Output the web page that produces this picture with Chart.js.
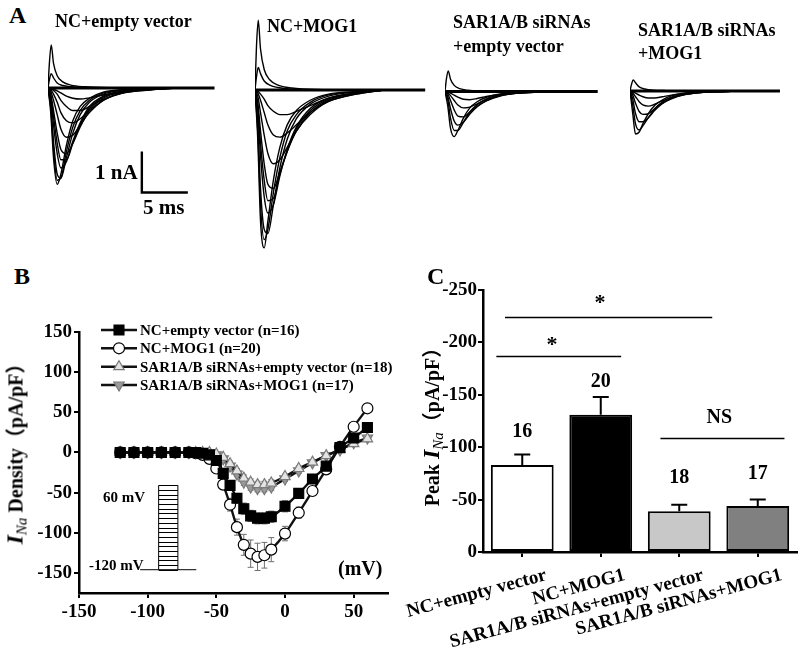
<!DOCTYPE html>
<html lang="en">
<head>
<meta charset="utf-8">
<title>INa density</title>
<script src="https://cdn.jsdelivr.net/npm/chart.js@4.4.1/dist/chart.umd.min.js"></script>
<style>
  html, body { margin: 0; padding: 0; background: #fff; }
  #fig { position: relative; width: 800px; height: 647px; overflow: hidden;
         font-family: "Liberation Serif", "Times New Roman", serif; font-weight: bold; color: #000; }
  #fig canvas { position: absolute; }
  .txt { position: absolute; white-space: nowrap; line-height: 1; }
  .vt { transform: translate(-50%, -50%) rotate(-90deg); font-size: 20px; }
  .vt i.big { font-size: 24px; }
  .vt sub { font-size: 15px; font-style: italic; font-weight: normal; vertical-align: -4px; }
  .cjk { font-family: "Noto Sans CJK SC", serif; }
</style>
</head>
<body>
<div id="fig">
  <!-- panel A -->
  <canvas id="traceNcEmpty" width="180" height="270" style="left:48px;top:0"></canvas>
  <canvas id="traceNcMog1" width="180" height="270" style="left:255px;top:0"></canvas>
  <canvas id="traceSarEmpty" width="180" height="270" style="left:445px;top:0"></canvas>
  <canvas id="traceSarMog1" width="170" height="270" style="left:630px;top:0"></canvas>
  <div class="txt" style="left:9px;top:3px;font-size:24px">A</div>
  <div class="txt" style="left:55px;top:12px;font-size:18px">NC+empty vector</div>
  <div class="txt" style="left:267px;top:17px;font-size:18px">NC+MOG1</div>
  <div class="txt" style="left:453px;top:13px;font-size:18px">SAR1A/B siRNAs</div>
  <div class="txt" style="left:453px;top:37px;font-size:18px">+empty vector</div>
  <div class="txt" style="left:638px;top:21px;font-size:18px">SAR1A/B siRNAs</div>
  <div class="txt" style="left:638px;top:44px;font-size:18px">+MOG1</div>
  <div class="txt" style="left:95px;top:162px;font-size:21px">1 nA</div>
  <div class="txt" style="left:143px;top:197px;font-size:21px">5 ms</div>

  <!-- panel B -->
  <canvas id="ivChart" width="400" height="350" style="left:0;top:290px"></canvas>
  <div class="txt" style="left:14px;top:264px;font-size:24px">B</div>
  <div class="txt vt" style="left:16px;top:449px"><i class="big">I</i><sub>Na</sub> Density<span class="cjk">（</span>pA/pF<span class="cjk">）</span></div>
  <div class="txt" style="left:338px;top:558px;font-size:20px">(mV)</div>
  <div class="txt" style="left:103px;top:490px;font-size:15px">60 mV</div>
  <div class="txt" style="left:89px;top:558px;font-size:15px">-120 mV</div>

  <!-- panel C -->
  <canvas id="peakChart" width="400" height="387" style="left:400px;top:260px"></canvas>
  <div class="txt" style="left:427px;top:264px;font-size:24px">C</div>
  <div class="txt vt" style="left:432px;top:422px">Peak <i class="big">I</i><sub>Na</sub><span class="cjk">（</span>pA/pF<span class="cjk">）</span></div>
</div>

<script>
// ---- panel A: whole-cell current traces (ms, nA) ----
const traceTimes = [0, 0.3, 0.6, 1.0, 1.4, 2.0, 2.7, 3.5, 4.5, 6, 8, 11, 14];
const spikeTimes = [0, 0.15, 0.35, 0.6, 1.0, 1.6, 2.5, 4, 8];
const recordEnd = [18.1, 18.5, 16.6, 16.3];

const ncEmptyTraces = [
    [0, -0.6, -1.7, -2.35, -2.1, -1.4, -0.8, -0.45, -0.25, -0.1, -0.04, -0.02, 0],
    [0, -0.5, -1.5, -2.25, -2.2, -1.55, -0.95, -0.55, -0.3, -0.12, -0.05, -0.02, 0],
    [0, -0.4, -1.3, -2.1, -2.2, -1.7, -1.1, -0.65, -0.35, -0.15, -0.06, -0.02, 0],
    [0, -0.25, -0.9, -1.6, -1.95, -1.8, -1.3, -0.85, -0.45, -0.2, -0.08, -0.03, 0],
    [0, -0.2, -0.7, -1.35, -1.75, -1.75, -1.35, -0.9, -0.5, -0.22, -0.09, -0.03, 0],
    [0, -0.15, -0.55, -1.1, -1.5, -1.6, -1.35, -0.95, -0.55, -0.25, -0.1, -0.03, 0],
    [0, -0.08, -0.3, -0.65, -1.0, -1.2, -1.15, -0.9, -0.6, -0.3, -0.12, -0.04, 0],
    [0, -0.04, -0.15, -0.35, -0.6, -0.8, -0.85, -0.75, -0.55, -0.3, -0.13, -0.05, 0],
    [0, -0.02, -0.06, -0.15, -0.3, -0.45, -0.55, -0.55, -0.45, -0.28, -0.13, -0.05, 0],
    [0, -0.01, -0.03, -0.07, -0.12, -0.2, -0.25, -0.27, -0.24, -0.17, -0.09, -0.04, 0]
];
const ncMog1Traces = [
    [0, -1.2, -3.2, -3.85, -3.2, -2.2, -1.4, -0.85, -0.5, -0.25, -0.1, -0.04, 0],
    [0, -1.0, -2.8, -3.65, -3.4, -2.5, -1.65, -1.0, -0.6, -0.3, -0.12, -0.04, 0],
    [0, -0.8, -2.4, -3.4, -3.5, -2.8, -1.9, -1.2, -0.7, -0.35, -0.15, -0.05, 0],
    [0, -0.5, -1.6, -2.6, -3.0, -2.8, -2.1, -1.45, -0.9, -0.45, -0.2, -0.07, 0],
    [0, -0.4, -1.3, -2.2, -2.7, -2.65, -2.05, -1.5, -0.95, -0.5, -0.22, -0.07, 0],
    [0, -0.3, -1.0, -1.8, -2.3, -2.4, -2.0, -1.5, -1.0, -0.55, -0.25, -0.08, 0],
    [0, -0.15, -0.55, -1.1, -1.55, -1.8, -1.7, -1.4, -1.0, -0.6, -0.28, -0.1, 0],
    [0, -0.07, -0.25, -0.55, -0.85, -1.1, -1.15, -1.05, -0.85, -0.55, -0.28, -0.1, 0],
    [0, -0.03, -0.1, -0.22, -0.38, -0.52, -0.6, -0.6, -0.52, -0.38, -0.2, -0.08, 0]
];
const sarEmptyTraces = [
    [0, -0.35, -0.9, -1.1, -0.95, -0.65, -0.4, -0.25, -0.14, -0.06, -0.02, -0.01, 0],
    [0, -0.2, -0.65, -0.95, -0.95, -0.75, -0.5, -0.32, -0.18, -0.08, -0.03, -0.01, 0],
    [0, -0.12, -0.42, -0.72, -0.82, -0.75, -0.55, -0.37, -0.22, -0.1, -0.04, -0.01, 0],
    [0, -0.06, -0.22, -0.45, -0.6, -0.62, -0.5, -0.36, -0.23, -0.11, -0.04, -0.01, 0],
    [0, -0.03, -0.1, -0.22, -0.33, -0.4, -0.38, -0.3, -0.2, -0.1, -0.04, -0.01, 0],
    [0, -0.01, -0.04, -0.09, -0.14, -0.19, -0.2, -0.17, -0.12, -0.07, -0.03, -0.01, 0]
];
const sarMog1Traces = [
    [0, -0.55, -1.05, -1.0, -0.8, -0.55, -0.35, -0.22, -0.12, -0.05, -0.02, -0.01, 0],
    [0, -0.35, -0.8, -0.95, -0.85, -0.65, -0.43, -0.27, -0.15, -0.07, -0.02, -0.01, 0],
    [0, -0.2, -0.55, -0.75, -0.75, -0.65, -0.47, -0.31, -0.18, -0.08, -0.03, -0.01, 0],
    [0, -0.1, -0.3, -0.5, -0.57, -0.55, -0.43, -0.3, -0.19, -0.09, -0.03, -0.01, 0],
    [0, -0.05, -0.14, -0.26, -0.34, -0.37, -0.32, -0.24, -0.16, -0.08, -0.03, -0.01, 0],
    [0, -0.02, -0.05, -0.1, -0.14, -0.17, -0.17, -0.14, -0.1, -0.06, -0.02, -0.01, 0]
];
// outward transients at the most depolarised steps
const ncEmptySpikes = [[0, 0.6, 1.05, 0.6, 0.3, 0.15, 0.07, 0.03, 0], [0, 0.2, 0.35, 0.25, 0.12, 0.06, 0.03, 0.01, 0]];
const ncMog1Spikes = [[0, 1.0, 1.7, 1.0, 0.5, 0.25, 0.12, 0.05, 0], [0, 0.3, 0.55, 0.4, 0.22, 0.12, 0.06, 0.02, 0]];
const sarEmptySpikes = [[0, 0.3, 0.5, 0.3, 0.15, 0.07, 0.03, 0.01, 0]];
const sarMog1Spikes = [[0, 0.15, 0.27, 0.2, 0.1, 0.05, 0.02, 0.01, 0]];

// scale bar: 1 nA / 5 ms
const scaleBarMs = [10.2, 10.2, 15.2];
const scaleBarNa = [-1.55, -2.55, -2.55];

// ---- panel B: I-V relationship ----
const voltages = [-120, -110, -100, -90, -80, -70, -65, -60, -55, -50, -45, -40, -35, -30, -25, -20, -15, -10, 0, 10, 20, 30, 40, 50, 60];
const ivNcEmpty = [0, 0, 0, 0, 0, 0, 0, -1, -3, -10, -26, -41, -57, -70, -79, -82, -82, -80, -67, -51, -33, -17, 6, 18, 31];
const ivNcMog1 = [0, 0, 0, 0, 0, 0, -1, -3, -8, -20, -40, -65, -93, -115, -126, -130, -128, -121, -101, -75, -48, -21, 7, 32, 55];
const ivSarEmpty = [0, 0, 0, 0, 0, 0, 0, 0, 0, -2, -6, -14, -23, -32, -37, -40, -40, -38, -30, -20, -12, -4, 4, 11, 17];
const ivSarMog1 = [0, 0, 0, 0, 0, 0, 0, 0, -1, -3, -8, -17, -27, -37, -43, -45, -45, -43, -33, -23, -13, -4, 3, 12, 18];
const ivNcEmptySem = [1, 1, 1, 1, 1, 1, 1, 1, 2, 3, 4, 5, 6, 7, 7, 7, 7, 7, 7, 6, 5, 4, 3, 3, 3];
const ivNcMog1Sem = [1, 1, 1, 1, 1, 1, 1, 1, 2, 3, 5, 8, 10, 13, 17, 17, 16, 15, 9, 7, 5, 4, 3, 4, 5];
const ivSarEmptySem = [1, 1, 1, 1, 1, 1, 1, 1, 1, 2, 2, 3, 3, 4, 4, 4, 4, 4, 3, 3, 2, 2, 2, 2, 2];
const ivSarMog1Sem = [1, 1, 1, 1, 1, 1, 1, 1, 1, 2, 2, 3, 3, 4, 4, 4, 4, 4, 3, 3, 2, 2, 2, 2, 2];
const ivLabels = ['NC+empty vector (n=16)', 'NC+MOG1 (n=20)', 'SAR1A/B siRNAs+empty vector (n=18)', 'SAR1A/B siRNAs+MOG1 (n=17)'];
const ivXTicks = [-150, -100, -50, 0, 50];
const ivYTicks = [-150, -100, -50, 0, 50, 100, 150];
const protocolSteps = [-120, -110, -100, -90, -80, -70, -60, -50, -40, -30, -20, -10, 0, 10, 20, 30, 40, 50, 60];

// ---- panel C: peak INa ----
const groupLabels = ['NC+empty vector', 'NC+MOG1', 'SAR1A/B siRNAs+empty vector', 'SAR1A/B siRNAs+MOG1'];
const peakMean = [-83, -131, -39, -44];
const peakSem = [10, 17, 6, 6];
const peakN = ['16', '20', '18', '17'];
const peakYTicks = [0, -50, -100, -150, -200, -250];

Chart.defaults.font.family = "'Liberation Serif', 'Times New Roman', serif";
Chart.defaults.font.weight = 'bold';
Chart.defaults.color = '#000';

const SERIF = "'Liberation Serif', 'Times New Roman', serif";
const PX_PER_MS = 9.2, PX_PER_NA = 41;

function toPoints(xs, ys) {
    return ys.map((v, k) => ({ x: xs[k], y: v }));
}

function makeTraceChart(id, traces, spikes, end, baseTop, withBar) {
    const cv = document.getElementById(id);
    const datasets = [{ data: [{ x: 0, y: 0 }, { x: end, y: 0 }], borderWidth: 2.8 }];
    traces.forEach(t => datasets.push({ data: toPoints(traceTimes, t) }));
    spikes.forEach(t => datasets.push({ data: toPoints(spikeTimes, t) }));
    if (withBar) {
        datasets.push({ data: toPoints(scaleBarMs, scaleBarNa), cubicInterpolationMode: 'default', tension: 0, borderWidth: 2.4 });
    }
    datasets.forEach(d => { d.borderColor = '#000'; if (!d.borderWidth) d.borderWidth = 1.4; });
    new Chart(cv, {
        type: 'line',
        data: { datasets },
        options: {
            responsive: false,
            animation: false,
            layout: { padding: 0 },
            elements: { point: { radius: 0 }, line: { cubicInterpolationMode: 'monotone' } },
            plugins: { legend: { display: false }, tooltip: { enabled: false }, colors: { enabled: false } },
            scales: {
                x: { type: 'linear', display: false, min: 0, max: cv.width / PX_PER_MS },
                y: { type: 'linear', display: false, min: -(cv.height - baseTop) / PX_PER_NA, max: baseTop / PX_PER_NA }
            }
        }
    });
}

makeTraceChart('traceNcEmpty', ncEmptyTraces, ncEmptySpikes, recordEnd[0], 88, true);
makeTraceChart('traceNcMog1', ncMog1Traces, ncMog1Spikes, recordEnd[1], 90, false);
makeTraceChart('traceSarEmpty', sarEmptyTraces, sarEmptySpikes, recordEnd[2], 91.5, false);
makeTraceChart('traceSarMog1', sarMog1Traces, sarMog1Spikes, recordEnd[3], 91, false);

// ---- panel B chart ----
const ivSeries = [ivNcEmpty, ivNcMog1, ivSarEmpty, ivSarMog1];
const ivSem = [ivNcEmptySem, ivNcMog1Sem, ivSarEmptySem, ivSarMog1Sem];
const ivStyles = [
    { pointStyle: 'rect', radius: 7, fill: '#000', edge: '#000', rot: 0 },
    { pointStyle: 'circle', radius: 5.5, fill: '#fff', edge: '#000', rot: 0 },
    { pointStyle: 'triangle', radius: 6, fill: '#e4e4e4', edge: '#7a7a7a', rot: 0 },
    { pointStyle: 'triangle', radius: 6, fill: '#9a9a9a', edge: '#7a7a7a', rot: 180 }
];
// voltage-step protocol drawing, in chart units
const inset = { box: [-92, -78], hold: [-105.5, -64.6], top: -41, bottom: -146 };
const legendRows = [40, 58.3, 76.7, 95];

const ivExtras = {
    id: 'ivExtras',
    beforeDatasetsDraw(chart) {
        const { ctx, scales: { x, y } } = chart;
        ctx.save();
        const bx0 = x.getPixelForValue(inset.box[0]), bx1 = x.getPixelForValue(inset.box[1]);
        const yLo = y.getPixelForValue(inset.bottom), yHi = y.getPixelForValue(inset.top);
        const first = protocolSteps[0], last = protocolSteps[protocolSteps.length - 1];
        ctx.strokeStyle = '#000';
        ctx.lineWidth = 1;
        ctx.beginPath();
        ctx.moveTo(x.getPixelForValue(inset.hold[0]), yLo);
        ctx.lineTo(x.getPixelForValue(inset.hold[1]), yLo);
        ctx.moveTo(bx0, yLo); ctx.lineTo(bx0, yHi);
        ctx.moveTo(bx1, yLo); ctx.lineTo(bx1, yHi);
        protocolSteps.forEach(s => {
            const py = Math.round(yLo + (s - first) / (last - first) * (yHi - yLo)) + 0.5;
            ctx.moveTo(bx0, py); ctx.lineTo(bx1, py);
        });
        ctx.stroke();

        // error bars (SEM)
        ctx.strokeStyle = '#707070';
        ctx.lineWidth = 1;
        ivSeries.forEach((vals, i) => {
            voltages.forEach((v, k) => {
                const px = x.getPixelForValue(v);
                const y1 = y.getPixelForValue(vals[k] - ivSem[i][k]);
                const y2 = y.getPixelForValue(vals[k] + ivSem[i][k]);
                ctx.beginPath();
                ctx.moveTo(px, y1); ctx.lineTo(px, y2);
                ctx.moveTo(px - 3, y1); ctx.lineTo(px + 3, y1);
                ctx.moveTo(px - 3, y2); ctx.lineTo(px + 3, y2);
                ctx.stroke();
            });
        });
        ctx.restore();
    },
    afterDraw(chart) {
        const ctx = chart.ctx;
        ctx.save();
        chart.data.datasets.forEach((ds, i) => {
            const ly = legendRows[i];
            ctx.strokeStyle = '#111';
            ctx.lineWidth = 2.4;
            ctx.beginPath();
            ctx.moveTo(101, ly); ctx.lineTo(137, ly);
            ctx.stroke();
            ctx.fillStyle = ivStyles[i].fill;
            ctx.strokeStyle = ivStyles[i].edge;
            ctx.lineWidth = 1.2;
            Chart.helpers.drawPoint(ctx, {
                pointStyle: ivStyles[i].pointStyle, rotation: ivStyles[i].rot,
                radius: ivStyles[i].radius, borderWidth: 1.2
            }, 119, ly);
            ctx.fillStyle = '#000';
            ctx.font = 'bold 15px ' + SERIF;
            ctx.textBaseline = 'middle';
            ctx.fillText(ds.label, 140, ly + 1);
        });
        ctx.restore();
    }
};

const axisFont = { family: SERIF, size: 19, weight: 'bold' };

new Chart(document.getElementById('ivChart'), {
    type: 'line',
    data: {
        datasets: ivSeries.map((vals, i) => ({
            label: ivLabels[i],
            data: toPoints(voltages, vals),
            borderColor: '#111',
            borderWidth: 2.4,
            pointStyle: ivStyles[i].pointStyle,
            pointRotation: ivStyles[i].rot,
            pointRadius: ivStyles[i].radius,
            pointBackgroundColor: ivStyles[i].fill,
            pointBorderColor: ivStyles[i].edge,
            pointBorderWidth: 1.2,
            cubicInterpolationMode: 'monotone'
        }))
    },
    options: {
        responsive: false,
        animation: false,
        layout: { padding: { top: 42, right: 12, left: 0, bottom: 0 } },
        plugins: { legend: { display: false }, tooltip: { enabled: false }, colors: { enabled: false } },
        scales: {
            x: {
                type: 'linear', min: -150, max: 75,
                afterBuildTicks: s => { s.ticks = ivXTicks.map(v => ({ value: v })); },
                afterFit: s => { s.height = 47; s.paddingLeft = 0; s.paddingRight = 0; },
                grid: { drawOnChartArea: false, tickLength: 5, color: '#000', lineWidth: 2 },
                border: { color: '#000', width: 2.5 },
                ticks: { font: axisFont, color: '#000', padding: 3, maxRotation: 0 }
            },
            y: {
                type: 'linear', min: -175, max: 150,
                afterBuildTicks: s => { s.ticks = ivYTicks.map(v => ({ value: v })); },
                afterFit: s => { s.width = 79; s.paddingTop = 0; s.paddingBottom = 0; },
                grid: { drawOnChartArea: false, tickLength: 5, color: '#000', lineWidth: 2 },
                border: { color: '#000', width: 2.5 },
                ticks: { font: axisFont, color: '#000', padding: 2 }
            }
        }
    },
    plugins: [ivExtras]
});

// ---- panel C chart ----
const barFills = ['#ffffff', '#000000', '#c8c8c8', '#808080'];
// annotation placement in chart units (category index, pA/pF)
const nLabelBase = [-110, -157.5, -65.7, -70];
const sigMarks = [
    { from: -0.33, to: 1.26, level: -187, text: '*', at: 0.38, base: -192, size: 22 },
    { from: -0.22, to: 2.42, level: -224, text: '*', at: 0.99, base: -232, size: 22 },
    { from: 1.76, to: 3.34, level: -109, text: 'NS', at: 2.51, base: -123, size: 20 }
];

const barExtras = {
    id: 'barExtras',
    afterDatasetsDraw(chart) {
        const { ctx, scales: { x, y } } = chart;
        ctx.save();
        ctx.strokeStyle = '#000';
        ctx.lineWidth = 2;
        peakMean.forEach((m, i) => {
            const px = x.getPixelForValue(i);
            const yBar = y.getPixelForValue(m);
            const yTop = y.getPixelForValue(m - peakSem[i]);
            ctx.beginPath();
            ctx.moveTo(px, yBar); ctx.lineTo(px, yTop);
            ctx.moveTo(px - 8, yTop); ctx.lineTo(px + 8, yTop);
            ctx.stroke();
        });
        ctx.fillStyle = '#000';
        ctx.textAlign = 'center';
        ctx.textBaseline = 'alphabetic';
        ctx.font = 'bold 20px ' + SERIF;
        peakN.forEach((n, i) => ctx.fillText(n, x.getPixelForValue(i), y.getPixelForValue(nLabelBase[i])));
        ctx.lineWidth = 1.5;
        sigMarks.forEach(s => {
            const py = Math.round(y.getPixelForValue(s.level)) + 0.5;
            ctx.beginPath();
            ctx.moveTo(x.getPixelForValue(s.from), py);
            ctx.lineTo(x.getPixelForValue(s.to), py);
            ctx.stroke();
            ctx.font = 'bold ' + s.size + 'px ' + SERIF;
            ctx.fillText(s.text, x.getPixelForValue(s.at), y.getPixelForValue(s.base));
        });
        ctx.restore();
    }
};

new Chart(document.getElementById('peakChart'), {
    type: 'bar',
    data: {
        labels: groupLabels,
        datasets: [{
            data: peakMean,
            backgroundColor: barFills,
            borderColor: '#000',
            borderWidth: 2,
            borderSkipped: false,
            barPercentage: 0.8,
            categoryPercentage: 1
        }]
    },
    options: {
        responsive: false,
        animation: false,
        layout: { padding: { top: 30, right: 3, left: 0, bottom: 0 } },
        plugins: { legend: { display: false }, tooltip: { enabled: false }, colors: { enabled: false } },
        scales: {
            x: {
                afterFit: s => { s.height = 95; s.paddingLeft = 0; s.paddingRight = 0; },
                grid: { offset: false, drawOnChartArea: false, tickLength: 5, color: '#000', lineWidth: 2 },
                border: { color: '#000', width: 2.5 },
                ticks: { font: axisFont, color: '#000', minRotation: 15, maxRotation: 15, autoSkip: false, labelOffset: 24, padding: 7 }
            },
            y: {
                type: 'linear', reverse: true, min: -250, max: 0,
                afterBuildTicks: s => { s.ticks = peakYTicks.map(v => ({ value: v })); },
                afterFit: s => { s.width = 83; s.paddingTop = 0; s.paddingBottom = 0; },
                grid: { drawOnChartArea: false, tickLength: 5, color: '#000', lineWidth: 2 },
                border: { color: '#000', width: 2.5 },
                ticks: { font: axisFont, color: '#000', padding: 1 }
            }
        }
    },
    plugins: [barExtras]
});
</script>
</body>
</html>
